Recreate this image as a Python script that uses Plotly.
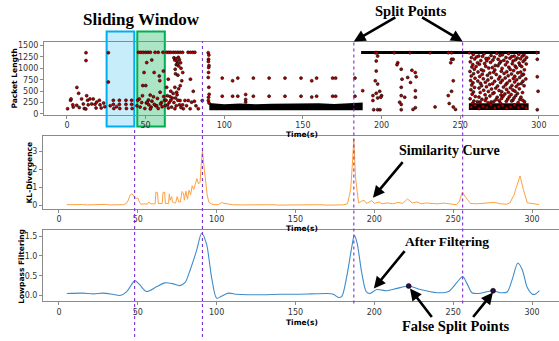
import plotly.graph_objects as go

# ---------------- Panel 1 : packet lengths ----------------
pre_t = [0.4, 2.3, 2.6, 3.7, 4.0, 6.2, 6.3, 7.4, 7.8, 9.3, 10.4, 11.0, 12.1, 12.1, 12.5, 13.1, 13.5,
         12.0, 14.6, 15.7, 16.7, 17.8, 18.5, 18.9, 20.6, 21.0, 21.8, 23.3, 24.0]
pre_len = [115, 300, 330, 200, 150, 190, 582, 452, 140, 330, 220, 120, 1342, 1170, 400, 300, 200,
           110, 330, 220, 330, 210, 130, 260, 300, 200, 130, 240, 160]

win1_t = [26.3, 26.3, 29.5, 29.5, 29.8, 33.3, 33.3, 33.6, 37.5, 37.5, 37.8, 41.1, 41.1, 41.4, 27.5, 31.5]
win1_len = [1342, 700, 300, 210, 120, 300, 210, 120, 300, 210, 120, 300, 210, 120, 180, 160]

win2_t = [45.5, 47.0, 48.5, 50.0, 51.5, 53.0, 56.0, 58.0, 61.0, 53.9, 50.7, 49.0, 55.4, 48.2, 50.1,
          59.0, 61.3, 58.7, 52.9, 55.0, 51.8, 59.2, 45.0, 46.5, 47.5, 49.5, 52.0, 54.0, 56.5, 57.5,
          60.0, 61.5, 48.0, 50.5, 53.5, 55.5, 58.0, 60.5, 62.0, 46.0, 51.0, 57.0, 59.5, 44.5, 53.0]
win2_len = [1350, 1350, 1350, 1350, 1350, 1350, 1350, 1350, 1350, 1183, 1125, 909, 909, 621, 621,
            730, 940, 832, 413, 377, 305, 477, 300, 150, 250, 120, 200, 280, 180, 340,
            250, 380, 400, 240, 150, 210, 120, 160, 300, 330, 260, 180, 220, 180, 110]

mid_t = [63.5, 64.8, 66.0, 67.6, 69.0, 70.5, 72.0, 73.5, 77.0, 78.5, 80.0, 81.3,
         68.0, 68.5, 69.2, 70.0, 70.8, 71.5, 72.2, 69.5, 71.0, 72.5, 68.8, 70.3,
         64.4, 78.5, 73.0, 73.6, 69.0, 70.5, 63.4, 68.6, 69.7, 80.3, 66.0, 71.0, 72.0, 70.0,
         71.9, 75.0, 77.1, 79.2, 68.6, 74.0, 78.3, 83.5, 86.0, 63.0, 64.0, 65.0, 66.5, 67.0,
         68.0, 69.5, 70.5, 71.5, 72.5, 63.8, 65.5, 67.5, 62.5, 64.5, 66.0, 69.0, 73.5, 76.0, 81.0, 82.0,
         89.8, 90.2, 90.0, 89.9, 90.3, 90.1, 90.0, 89.8, 90.2, 90.4, 90.0, 89.9, 90.3]
mid_len = [1350, 1350, 1350, 1350, 1350, 1350, 1350, 1350, 1350, 1350, 1350, 1350,
           1230, 1180, 1210, 1150, 1240, 1190, 1120, 1080, 1050, 1000, 980, 1100,
           763, 763, 727, 908, 880, 850, 583, 583, 475, 496, 500, 550, 620, 420,
           295, 295, 295, 259, 115, 115, 115, 115, 295, 300, 200, 250, 150, 350,
           250, 180, 300, 200, 140, 400, 380, 450, 180, 130, 300, 350, 200, 180, 280, 180,
           1342, 1290, 1200, 1150, 1060, 1018, 910, 800, 583, 430, 367, 295, 240]

sparse_t = [98.7, 108.6, 118.5, 128.5, 138.6, 105.3, 98.7, 105.3, 108.6, 118.5, 128.5, 138.6,
            113.6, 113.6, 113.6, 148.8, 155.6, 158.7, 168.9, 170.8, 183.1,
            148.8, 155.6, 158.7, 168.9, 170.8, 183.1]
sparse_len = [785, 785, 785, 785, 785, 727, 390, 390, 390, 390, 390, 390,
              427, 318, 260, 785, 727, 785, 785, 785, 785,
              390, 370, 390, 390, 390, 390]

late_t = [196.0, 197.0, 208.0, 218.0, 230.8, 242.4, 244.5, 255.8,
          197.5, 196.6, 210.3, 209.8, 196.6, 212.5, 219.3, 221.4, 222.0, 216.6, 213.0, 196.0,
          197.5, 218.4, 221.5, 212.5, 188.0, 198.8, 196.6, 194.5, 200.0, 197.5, 194.5, 199.5,
          212.5, 214.7, 221.5, 211.5, 212.5, 195.0, 197.5, 212.5, 221.5, 244.5, 245.5, 244.0,
          245.6, 242.4, 244.5, 234.0, 243.0, 245.6, 247.0, 220.0, 199.0,
          299.0, 299.0, 299.5, 299.0, 298.6]
late_len = [1342, 1342, 1342, 1342, 1342, 1342, 1342, 1342,
            1268, 1160, 1124, 1080, 940, 980, 957, 907, 815, 800, 763, 727,
            655, 690, 510, 583, 510, 496, 453, 402, 402, 352, 295, 367,
            402, 367, 367, 259, 209, 93, 93, 93, 137, 1198, 1198, 1124,
            727, 402, 496, 155, 230, 155, 100, 100, 93,
            1198, 815, 496, 93, 1342]

cloud_t = [258.3, 261.8, 265.1, 269.6, 273.2, 276.9, 280.7, 284.4, 287.2, 290.5,
           257.1, 260.4, 264.2, 268.0, 271.7, 275.3, 279.1, 282.8, 286.3, 289.4, 292.2,
           259.2, 263.1, 266.4, 270.8, 274.1, 277.7, 281.6, 285.2, 288.3, 291.1,
           256.4, 261.0, 266.9, 269.3, 275.8, 279.9, 283.6, 287.4, 290.0,
           258.0, 262.2, 265.5, 272.3, 275.0, 278.8, 283.1, 288.0, 292.0,
           257.4, 260.1, 266.2, 270.4, 274.0, 280.9, 284.9, 289.1,
           259.0, 263.4, 268.1, 272.0, 276.6, 281.8, 285.7, 290.8,
           256.2, 261.3, 264.8, 271.2, 276.1, 279.6, 283.9, 288.4,
           258.5, 264.0, 268.8, 272.9, 277.9, 282.6, 286.6, 290.2,
           257.0, 262.4, 267.3, 275.2, 280.5, 284.7, 289.3,
           259.4, 264.7, 269.8, 274.4, 278.6, 283.8, 287.8, 291.7,
           256.6, 261.2, 267.6, 271.9, 276.8, 281.4, 285.9, 289.9,
           258.1, 262.9, 266.0, 270.6, 275.7, 279.8, 284.6, 288.8,
           257.3, 263.6, 268.7, 273.8, 278.9, 282.9, 286.9, 290.6,
           259.1, 262.0, 266.7, 272.6, 277.5, 281.9, 285.6,
           256.8, 264.9, 269.9, 274.7, 279.5, 283.5, 287.6,
           258.4, 262.7, 267.9, 271.5, 276.4, 280.6, 284.8, 289.6,
           257.6, 265.8, 270.7, 275.9, 278.4, 282.4, 286.4,
           259.6, 261.9, 268.9, 273.5, 277.2, 281.2, 285.3, 288.6,
           256.3, 263.8, 266.6, 272.8, 276.3, 280.2, 284.2, 287.9,
           258.7, 260.9, 265.9, 269.7, 274.8, 279.3, 283.4, 290.9,
           257.8, 262.6, 267.7, 271.4, 275.6, 282.7, 286.8, 289.8]
cloud_len = [1305, 1270, 1318, 1282, 1330, 1296, 1322, 1268, 1308, 1294,
             1235, 1250, 1262, 1220, 1245, 1278, 1236, 1258, 1224, 1262, 1238,
             1205, 1170, 1214, 1182, 1198, 1176, 1220, 1188, 1210, 1190,
             1142, 1120, 1165, 1130, 1148, 1136, 1160, 1115, 1150,
             1082, 1090, 1105, 1062, 1110, 1076, 1100, 1068, 1096,
             1030, 1040, 1044, 1016, 1058, 1025, 1048, 1038,
             982, 970, 1004, 964, 998, 976, 1010, 968,
             932, 920, 945, 915, 938, 926, 950, 918,
             882, 870, 895, 864, 888, 876, 900, 868,
             832, 820, 846, 814, 838, 826, 850,
             782, 770, 794, 766, 788, 776, 800, 768,
             732, 720, 745, 715, 738, 726, 750, 718,
             682, 670, 694, 664, 688, 676, 700, 668,
             632, 620, 645, 614, 638, 626, 650, 618,
             582, 570, 595, 566, 588, 576, 600,
             532, 520, 545, 514, 538, 526, 550,
             482, 470, 494, 464, 488, 476, 500, 468,
             432, 420, 446, 414, 438, 426, 450,
             382, 370, 394, 366, 388, 376, 400, 368,
             332, 320, 345, 314, 338, 326, 350, 318,
             282, 270, 294, 264, 288, 276, 300, 268,
             232, 260, 246, 274, 238, 286, 250, 298]

band_low_t = [90.5, 100, 110, 120, 130, 140, 150, 160, 170, 180, 188]
band_low_top = [240, 215, 228, 210, 222, 226, 214, 232, 220, 236, 250]
band_low_bottom = [80, 80, 80, 80, 80, 80, 80, 80, 80, 80, 80]

row_top_t = [187.0, 300.5]
row_top_len = [1345, 1345]

band_late_t = [255.5, 293.5]
band_late_top = [235, 235]
band_late_bottom = [85, 85]
band_late_dot_t = [257, 259.5, 262, 264.5, 267, 269.5, 272, 274.5, 277, 279.5, 282, 284.5, 287, 289.5, 292]
band_late_dot_len = [150, 190, 120, 170, 140, 200, 130, 160, 185, 125, 155, 195, 140, 175, 130]

windows = [(25.2, 42.8), (44.7, 62.2)]

# ---------------- Panel 2 : KL-divergence ----------------
kl_t = [5, 8, 10, 12, 15, 18, 20, 23, 26, 28, 30, 32, 35, 38, 41, 43, 44, 45, 46, 47, 48, 49, 50,
        51.5, 52, 54, 56, 57, 58, 60, 61, 61.5, 62.5, 63, 65.5, 66, 67, 67.5, 69.5, 70, 70.5, 71.5,
        72, 73, 74, 75, 76, 77, 78, 79, 79.5, 80.5, 81.5, 82.5, 83.5, 84.5, 85.5, 86.5, 87.5, 88.5,
        89.5, 90.2, 91, 92, 93, 94, 95, 97, 99,
        101, 103, 105, 107, 110, 115, 120, 125, 130, 135, 140, 145, 150, 155, 160, 165, 170, 175,
        180, 183, 184, 185, 186, 187, 188, 189, 190, 192, 193.5, 195, 198.4, 200, 203, 205, 208,
        212, 215, 218, 221, 224, 227, 230, 233, 236.6, 240, 244, 248, 252, 254, 255.8, 258, 261,
        265, 270, 276, 280, 284, 286, 288.6, 290, 292.4, 294.5, 297, 300, 302, 304.4]
kl_val = [0.05, 0.06, 0.08, 0.05, 0.06, 0.04, 0.05, 0.06, 0.05, 0.08, 0.07, 0.04, 0.05, 0.06, 0.05,
          0.15, 0.3, 0.55, 0.65, 0.6, 0.45, 0.4, 0.42,
          0.12, 0.08, 0.1, 0.08, 0.2, 0.1, 0.1, 0.1, 0.75, 0.72, 0.12, 0.12, 0.72, 0.75, 0.12, 0.12,
          0.65, 0.3, 0.5, 0.2, 0.15, 0.15, 0.5, 0.2, 0.2, 0.78, 0.7, 0.3, 0.8, 0.35, 0.85, 0.6, 1.1,
          0.9, 1.2, 1.5, 1.2, 1.3, 2.2, 3.05, 2.15, 1.3, 0.6, 0.2, 0.08, 0.05,
          0.05, 0.16, 0.12, 0.08, 0.05, 0.04, 0.05, 0.03, 0.04, 0.05, 0.03,
          0.04, 0.05, 0.03, 0.04, 0.05, 0.03, 0.04, 0.04, 0.1, 0.5, 0.9, 2.2, 3.7, 1.6, 0.9, 0.15,
          0.25, 0.3, 0.12, 0.28, 0.12, 0.2, 0.1, 0.15, 0.1, 0.18, 0.12, 0.37, 0.15, 0.2, 0.1, 0.15,
          0.12, 0.1, 0.14, 0.08, 0.05, 0.25, 0.75, 0.45, 0.12, 0.1, 0.12, 0.18, 0.1, 0.08, 0.15,
          0.6, 1.0, 1.64, 0.89, 0.15, 0.12, 0.08, 0.06]

# ---------------- Panel 3 : low-pass filtered ----------------
lp_t = [5, 15, 22, 28, 34, 38.7, 43, 48.2, 51, 55.6, 61.9, 67.2, 72, 76.7, 80, 83, 87.3, 90.5,
        93.6, 96.8, 100, 103, 107.4, 112.7, 120, 130, 140, 150, 160, 170, 174, 177.3, 179.4, 182.6,
        185.8, 187.3, 189, 192, 194.8, 197, 201.6, 208, 214.4, 221.8, 229.2, 239.7, 247.1, 252.4,
        256, 258.8, 261.9, 266.2, 270, 275.3, 279.9, 284.2, 287.4, 291, 293.8, 297, 300, 302, 304.6]
lp_val = [0.05, 0.06, 0.04, 0.06, 0.03, 0.0, 0.1, 0.375, 0.28, 0.1, 0.22, 0.32, 0.3, 0.25, 0.33,
          0.62, 1.14, 1.575, 1.3, 0.46, -0.07, -0.02, 0.06, 0.03, 0.02, 0.02, 0.03, 0.03, 0.04, 0.05,
          0.03, -0.05, -0.02, 0.5, 1.25, 1.52, 1.34, 0.58, 0.1, 0.05, 0.15, 0.12, 0.18, 0.24, 0.15,
          0.07, 0.1, 0.33, 0.48, 0.3, 0.07, 0.05, 0.08, 0.12, 0.07, 0.09, 0.4, 0.82, 0.65, 0.2, 0.04,
          0.03, 0.12]

false_t = [221.8, 275.3]
false_val = [0.24, 0.12]

split_t = [48, 91, 187, 256]

# ---------------- figure ----------------
W, H = 559, 341
def py(p):
    return 1 - p / H
def px(p):
    return p / W

fig = go.Figure()

marker = dict(size=3.0, color="#b00000", line=dict(color="black", width=0.55))

fig.add_trace(go.Scatter(x=band_low_t + band_low_t[::-1], y=band_low_top + band_low_bottom[::-1],
                         fill="toself", fillcolor="black", line=dict(width=0), mode="lines",
                         xaxis="x", yaxis="y", hoverinfo="skip"))
fig.add_trace(go.Scatter(x=band_late_t + band_late_t[::-1], y=band_late_top + band_late_bottom[::-1],
                         fill="toself", fillcolor="#140000", line=dict(width=0), mode="lines",
                         xaxis="x", yaxis="y", hoverinfo="skip"))
fig.add_trace(go.Scatter(x=row_top_t, y=row_top_len, mode="lines", line=dict(color="black", width=3),
                         xaxis="x", yaxis="y"))
for tt, ll in [(pre_t, pre_len), (win1_t, win1_len), (win2_t, win2_len), (mid_t, mid_len),
               (sparse_t, sparse_len), (late_t, late_len), (cloud_t, cloud_len),
               (band_late_dot_t, band_late_dot_len)]:
    fig.add_trace(go.Scatter(x=tt, y=ll, mode="markers", marker=marker, xaxis="x", yaxis="y"))

fig.add_trace(go.Scatter(x=kl_t, y=kl_val, mode="lines", line=dict(color="#ffa040", width=1),
                         xaxis="x2", yaxis="y2"))
fig.add_trace(go.Scatter(x=lp_t, y=lp_val, mode="lines",
                         line=dict(color="#3d8ccc", width=1.1, shape="spline", smoothing=0.8),
                         xaxis="x3", yaxis="y3"))
fig.add_trace(go.Scatter(x=false_t, y=false_val, mode="markers",
                         marker=dict(size=5, color="#2a1040", line=dict(color="black", width=0.5)),
                         xaxis="x3", yaxis="y3"))

tickfont = dict(family="DejaVu Sans", size=8, color="#333")
axis_common = dict(showline=True, linecolor="#8a8a8a", linewidth=1, ticks="outside", ticklen=3,
                   tickcolor="#8a8a8a", tickfont=tickfont, showgrid=False, zeroline=False)

xt = [0, 50, 100, 150, 200, 250, 300]
fig.update_layout(
    width=W, height=H, margin=dict(l=0, r=0, t=0, b=0),
    paper_bgcolor="white", plot_bgcolor="white", showlegend=False,
    xaxis=dict(domain=[px(44), 1], range=[-14.6, 312.8], anchor="y", mirror=True, tickvals=xt, **axis_common),
    yaxis=dict(domain=[py(116), py(42)], range=[-15, 1587], anchor="x",
               tickvals=[0, 250, 500, 750, 1000, 1250, 1500], **axis_common),
    xaxis2=dict(domain=[px(43), 1], range=[-10.1, 317.1], anchor="y2", mirror=True, tickvals=xt, **axis_common),
    yaxis2=dict(domain=[py(211), py(138)], range=[-0.16, 3.83], anchor="x2", tickvals=[0, 1, 2, 3], **axis_common),
    xaxis3=dict(domain=[px(43), 1], range=[-10.1, 317.1], anchor="y3", mirror=True, tickvals=xt, **axis_common),
    yaxis3=dict(domain=[py(305), py(233)], range=[-0.15, 1.65], anchor="x3",
                tickvals=[0, 0.5, 1.0, 1.5], ticktext=["0.0", "0.5", "1.0", "1.5"], **axis_common),
)

shapes = []
win_style = [("#00aeef", "rgba(0,174,239,0.22)"), ("#00b050", "rgba(0,176,80,0.33)")]
for (a, b), (lc, fc) in zip(windows, win_style):
    shapes.append(dict(type="rect", xref="x", yref="paper", x0=a, x1=b, y0=py(128), y1=py(32),
                       line=dict(color=lc, width=2), fillcolor=fc, layer="below"))
for i, s in enumerate(split_t):
    top = py(129) if i == 0 else py(42)
    bottom = 0 if i < 2 else py(307)
    shapes.append(dict(type="line", xref="x2", yref="paper", x0=s, x1=s, y0=bottom, y1=top,
                       line=dict(color="#7a2fd0", width=1.1, dash="dot"), layer="above"))
fig.update_layout(shapes=shapes)

ann = []
lab = dict(family="DejaVu Sans", size=7.5, color="black")
for text, x, y in [("Packet Length", 14.5, 80), ("KL-Divergence", 29.5, 175), ("Lowpass Filtering", 21.5, 269.5)]:
    ann.append(dict(text="<b>%s</b>" % text, x=px(x), y=py(y), xref="paper", yref="paper", textangle=-90,
                    showarrow=False, font=lab, xanchor="center", yanchor="middle"))
for y in [136, 231, 326]:
    ann.append(dict(text="<b>Time(s)</b>", x=px(302), y=py(y), xref="paper", yref="paper",
                    showarrow=False, font=lab, xanchor="center", yanchor="middle", borderpad=0))

serif = "Liberation Serif, Times New Roman, serif"
for text, x, y, s in [("Sliding Window", 141, 20, 17), ("Split Points", 410.5, 11, 14.5),
                      ("Similarity Curve", 449.5, 152.5, 14), ("After Filtering", 447, 244.5, 13.5),
                      ("False Split Points", 455.5, 329.5, 14.5)]:
    ann.append(dict(text="<b>%s</b>" % text, x=px(x), y=py(y), xref="paper", yref="paper", showarrow=False,
                    font=dict(family=serif, size=s, color="black"), xanchor="center", yanchor="middle"))

arrow = dict(showarrow=True, text="", arrowhead=2, arrowsize=0.9, arrowwidth=2.6, arrowcolor="black")
ann.append(dict(x=split_t[2], y=py(42), xref="x2", yref="paper", ax=43, ay=-25, **arrow))
ann.append(dict(x=split_t[3], y=py(42), xref="x2", yref="paper", ax=-42, ay=-25, **arrow))
ann.append(dict(x=199.1, y=0.44, xref="x2", yref="y2", ax=31, ay=-37, **arrow))
ann.append(dict(x=199.7, y=0.175, xref="x3", yref="y3", ax=32, ay=-39, **arrow))
ann.append(dict(x=222.6, y=0.175, xref="x3", yref="y3", ax=23, ay=30, **arrow))
ann.append(dict(x=275.2, y=0.075, xref="x3", yref="y3", ax=-21, ay=26, **arrow))
fig.update_layout(annotations=ann)

fig.write_html("out.html", config={"displayModeBar": False},
               post_script="document.body.style.margin='0px';document.body.style.padding='0px';")
